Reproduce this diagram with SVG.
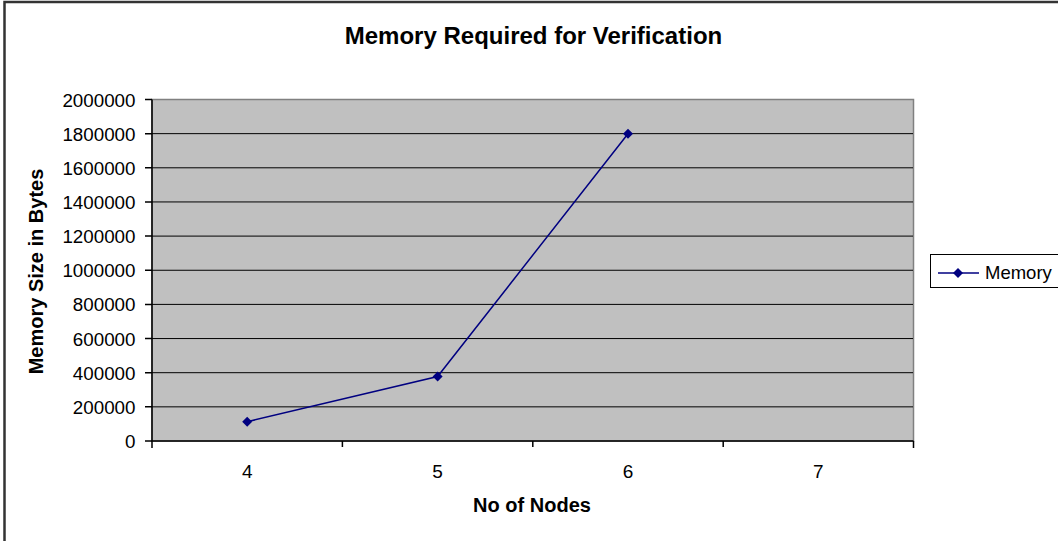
<svg xmlns="http://www.w3.org/2000/svg" width="1058" height="541" viewBox="0 0 1058 541">
<style>
.t{font-family:"Liberation Sans",Arial,sans-serif;fill:#000}
.tick{font-size:18.5px}
.ylab{font-size:18.8px;text-anchor:end}
.xlab{font-size:19px;text-anchor:middle}
.ttl{font-size:24px;font-weight:bold;text-anchor:middle}
.ax{font-size:20px;font-weight:bold;text-anchor:middle}
.grid{stroke:#000;stroke-width:1}
.series{fill:none;stroke:#000080;stroke-width:1.5}
</style>
<defs>
<path id="dia" d="M0,-5 L5,0 L0,5 L-5,0 Z" fill="#000080"/>
</defs>
<rect x="0" y="0" width="1058" height="541" fill="#fff"/>
<g id="frame">
<path d="M4.5,545 V2 H1062" fill="none" stroke="#333" stroke-width="2.5"/>
</g>
<g id="title"><text class="t ttl" x="533.5" y="44">Memory Required for Verification</text></g>
<g id="plot">
<rect x="152" y="99.5" width="761.5" height="341.5" fill="#c0c0c0" stroke="#808080" stroke-width="1.5"/>
<g class="grid">
<line x1="152" y1="133.65" x2="913" y2="133.65"/>
<line x1="152" y1="167.8" x2="913" y2="167.8"/>
<line x1="152" y1="201.95" x2="913" y2="201.95"/>
<line x1="152" y1="236.1" x2="913" y2="236.1"/>
<line x1="152" y1="270.25" x2="913" y2="270.25"/>
<line x1="152" y1="304.4" x2="913" y2="304.4"/>
<line x1="152" y1="338.55" x2="913" y2="338.55"/>
<line x1="152" y1="372.7" x2="913" y2="372.7"/>
<line x1="152" y1="406.85" x2="913" y2="406.85"/>
</g>
</g>
<g id="axes" stroke="#000" stroke-width="1.5" fill="none">
<path d="M152,99.5 V441 H913.5"/>
<path d="M145,99.5 H152 M145,133.65 H152 M145,167.8 H152 M145,201.95 H152 M145,236.1 H152 M145,270.25 H152 M145,304.4 H152 M145,338.55 H152 M145,372.7 H152 M145,406.85 H152 M145,441 H152"/>
<path d="M152,441 V448 M342.4,441 V447 M532.8,441 V447 M723.2,441 V447 M913.5,441 V448"/>
</g>
<g id="ylabels" class="t ylab">
<text x="135.5" y="106.5">2000000</text>
<text x="135.5" y="140.6">1800000</text>
<text x="135.5" y="174.8">1600000</text>
<text x="135.5" y="209">1400000</text>
<text x="135.5" y="243.1">1200000</text>
<text x="135.5" y="277.3">1000000</text>
<text x="135.5" y="311.4">800000</text>
<text x="135.5" y="345.6">600000</text>
<text x="135.5" y="379.7">400000</text>
<text x="135.5" y="413.9">200000</text>
<text x="135.5" y="448">0</text>
</g>
<g id="xlabels" class="t xlab">
<text x="247.2" y="477.5">4</text>
<text x="437.6" y="477.5">5</text>
<text x="628" y="477.5">6</text>
<text x="818.4" y="477.5">7</text>
</g>
<g id="axis-titles" class="t ax">
<text x="532" y="511.5">No of Nodes</text>
<text transform="translate(43,271.5) rotate(-90)" x="0" y="0">Memory Size in Bytes</text>
</g>
<g id="connectors">
<polyline class="series" points="247.2,421.7 437.6,376.5 628,133.7"/>
</g>
<g id="markers">
<use href="#dia" x="247.2" y="421.7"/>
<use href="#dia" x="437.6" y="376.5"/>
<use href="#dia" x="628" y="133.7"/>
</g>
<g id="legend">
<rect x="930.5" y="254.5" width="140" height="33" fill="#fff" stroke="#000" stroke-width="1"/>
<line x1="938" y1="273" x2="979" y2="273" stroke="#000080" stroke-width="1.5"/>
<use href="#dia" x="958" y="273"/>
<text class="t tick" x="985" y="279">Memory</text>
</g>
</svg>
